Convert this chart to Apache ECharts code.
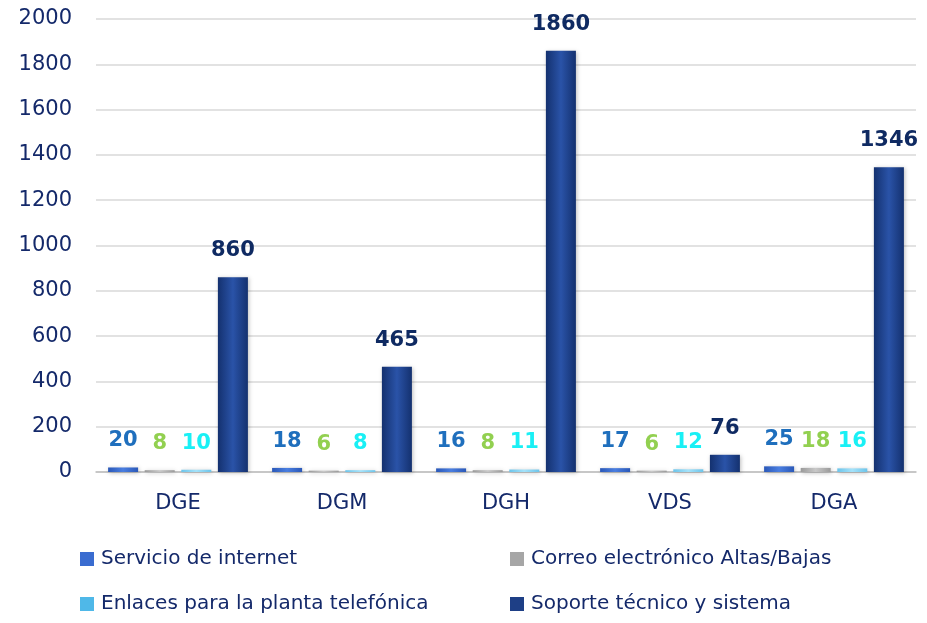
<!DOCTYPE html>
<html>
<head>
<meta charset="utf-8">
<script src="https://cdn.jsdelivr.net/npm/echarts@6/dist/echarts.min.js"></script>
<style>
  html, body { margin: 0; padding: 0; background: #fff; }
  #chart { width: 927px; height: 623px; }
</style>
</head>
<body>
<div id="chart"></div>
<script>
// Requests handled per area, by type of service
const categories = ['DGE', 'DGM', 'DGH', 'VDS', 'DGA'];
const internetValues = [20, 18, 16, 17, 25];
const correoValues = [8, 6, 8, 6, 18];
const enlacesValues = [10, 8, 11, 12, 16];
const soporteValues = [860, 465, 1860, 76, 1346];
const seriesNames = [
  'Servicio de internet',
  'Correo electrónico Altas/Bajas',
  'Enlaces para la planta telefónica',
  'Soporte técnico y sistema'
];
const yTicks = { min: 0, max: 2000, interval: 200 };

const navy = '#14296a';
const font = '"DejaVu Sans", sans-serif';

function bevel(edge, mid) {
  return new echarts.graphic.LinearGradient(0, 0, 1, 0, [
    { offset: 0, color: edge },
    { offset: 0.5, color: mid },
    { offset: 1, color: edge }
  ]);
}

const styles = [
  { fill: bevel('#2a58b8', '#4a7ee0'), label: '#1f6fbd', icon: '#3a6cd0' },
  { fill: bevel('#9a9a9a', '#c8c8c8'), label: '#92d050', icon: '#a6a6a6' },
  { fill: bevel('#6cc4ea', '#a4e2fa'), label: '#19f0f5', icon: '#4fb8e8' },
  { fill: bevel('#14316f', '#2a53a8'), label: '#0f2a62', icon: '#1e3f86' }
];
const values = [internetValues, correoValues, enlacesValues, soporteValues];

const series = seriesNames.map((name, i) => ({
  name: name,
  type: 'bar',
  data: values[i],
  barWidth: 30,
  barGap: '22%',
  itemStyle: {
    color: styles[i].fill,
    shadowColor: 'rgba(0,0,0,0.25)',
    shadowBlur: 4,
    shadowOffsetX: 1,
    shadowOffsetY: 1
  },
  label: {
    show: true,
    position: 'top',
    distance: 16,
    color: styles[i].label,
    fontFamily: font,
    fontWeight: 'bold',
    fontSize: 21
  }
}));

// one legend block per entry, laid out as two columns
const legendPos = [
  { left: 80, top: 549 },
  { left: 510, top: 549 },
  { left: 80, top: 594 },
  { left: 510, top: 594 }
];
const legends = seriesNames.map((name, i) => ({
  data: [{ name: name, itemStyle: { color: styles[i].icon } }],
  left: legendPos[i].left,
  top: legendPos[i].top,
  padding: 0,
  icon: 'rect',
  itemWidth: 14,
  itemHeight: 14,
  selectedMode: false,
  textStyle: { color: navy, fontFamily: font, fontSize: 20, padding: [0, 0, 0, 2] }
}));

const chart = echarts.init(document.getElementById('chart'));
chart.setOption({
  animation: false,
  legend: legends,
  grid: { left: 96, right: 11, top: 19, bottom: 151 },
  xAxis: {
    type: 'category',
    data: categories,
    axisLine: { lineStyle: { color: '#bfbfbf', width: 1.5 } },
    axisTick: { show: false },
    axisLabel: { color: navy, fontFamily: font, fontSize: 21, margin: 21 }
  },
  yAxis: {
    type: 'value',
    min: yTicks.min,
    max: yTicks.max,
    interval: yTicks.interval,
    axisLine: { show: false },
    axisTick: { show: false },
    axisLabel: {
      color: navy, fontFamily: font, fontSize: 21, margin: 24,
      formatter: (v) => String(v)
    },
    splitLine: { lineStyle: { color: '#d9d9d9', width: 1.5 } }
  },
  series: series
});
</script>
</body>
</html>
